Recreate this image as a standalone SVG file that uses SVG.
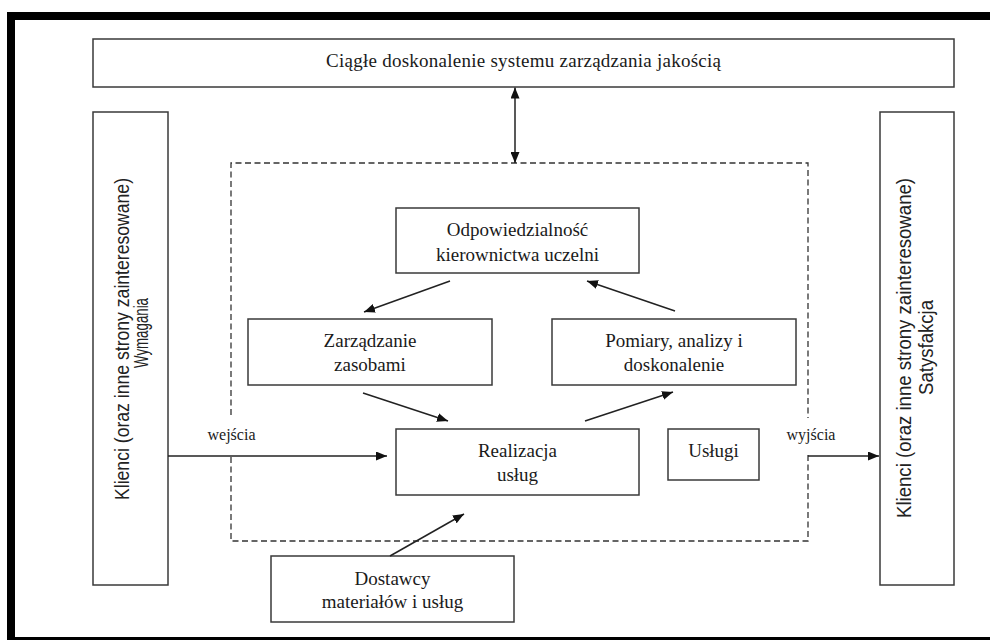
<svg xmlns="http://www.w3.org/2000/svg" width="990" height="640" viewBox="0 0 990 640">
  <defs>
    <marker id="arrow" viewBox="0 0 11 9" refX="11" refY="4.5" markerWidth="11" markerHeight="9" markerUnits="userSpaceOnUse" orient="auto-start-reverse">
      <path d="M0,0 L11,4.5 L0,9 z" fill="#111"/>
    </marker>
    <style>
      .box { fill: #fff; stroke: #3a3a3a; stroke-width: 1.5; }
      .dash { fill: none; stroke: #333; stroke-width: 1.3; stroke-dasharray: 6 3.5; }
      .conn { fill: none; stroke: #222; stroke-width: 1.5; marker-end: url(#arrow); }
      .lbl { font-family: "Liberation Serif", "Times New Roman", serif; font-size: 19px; fill: #1a1a1a; text-anchor: middle; }
      .small { font-family: "Liberation Serif", "Times New Roman", serif; font-size: 16px; fill: #1a1a1a; text-anchor: middle; }
      .side { font-family: "Liberation Sans", Arial, sans-serif; fill: #222; text-anchor: middle; }
    </style>
  </defs>

  <rect width="990" height="640" fill="#fff"/>
  <!-- heavy outer frame -->
  <rect x="11" y="16" width="984" height="625" fill="none" stroke="#000" stroke-width="8"/>

  <!-- process boundary, opened where the input and output flows cross it -->
  <path class="dash" d="M231,415 V163 H808 V418 M808,455 V541 H231 V456"/>

  <g id="improvement">
    <rect class="box" x="93" y="39" width="861" height="48"/>
    <text class="lbl" x="523.5" y="67" textLength="395" lengthAdjust="spacing">Ciągłe doskonalenie systemu zarządzania jakością</text>
  </g>

  <g id="clients-requirements">
    <rect class="box" x="93" y="112" width="75" height="473"/>
    <text class="side" font-size="19.5" transform="translate(128.5,339) rotate(-90)" textLength="322" lengthAdjust="spacingAndGlyphs">Klienci (oraz inne strony zainteresowane)</text>
    <text class="side" font-size="19.5" transform="translate(148,333) rotate(-90)" textLength="70" lengthAdjust="spacingAndGlyphs">Wymagania</text>
  </g>

  <g id="clients-satisfaction">
    <rect class="box" x="880" y="112" width="74" height="473"/>
    <text class="side" font-size="20" transform="translate(911,348) rotate(-90)" textLength="340" lengthAdjust="spacingAndGlyphs">Klienci (oraz inne strony zainteresowane)</text>
    <text class="side" font-size="20" transform="translate(933,347.5) rotate(-90)" textLength="95" lengthAdjust="spacingAndGlyphs">Satysfakcja</text>
  </g>

  <g id="management">
    <rect class="box" x="396" y="208" width="243" height="65"/>
    <text class="lbl" x="517.5" y="235.5">Odpowiedzialność</text>
    <text class="lbl" x="517.5" y="260.5">kierownictwa uczelni</text>
  </g>

  <g id="resources">
    <rect class="box" x="248" y="319" width="244" height="66"/>
    <text class="lbl" x="370" y="347">Zarządzanie</text>
    <text class="lbl" x="370" y="371">zasobami</text>
  </g>

  <g id="measurement">
    <rect class="box" x="552" y="319" width="244" height="66"/>
    <text class="lbl" x="674" y="347">Pomiary, analizy i</text>
    <text class="lbl" x="674" y="371">doskonalenie</text>
  </g>

  <g id="realization">
    <rect class="box" x="396" y="429" width="243" height="66"/>
    <text class="lbl" x="517.5" y="457">Realizacja</text>
    <text class="lbl" x="517.5" y="481">usług</text>
  </g>

  <g id="services">
    <rect class="box" x="668" y="429" width="91" height="51"/>
    <text class="lbl" x="713.5" y="456.5">Usługi</text>
  </g>

  <g id="suppliers">
    <rect class="box" x="271" y="556" width="243" height="66"/>
    <text class="lbl" x="392.5" y="584.5">Dostawcy</text>
    <text class="lbl" x="392.5" y="607.5">materiałów i usług</text>
  </g>

  <g id="connectors">
    <line class="conn" x1="515" y1="87.5" x2="515" y2="163" marker-start="url(#arrow)"/>
    <line class="conn" x1="450" y1="281" x2="364" y2="312"/>
    <line class="conn" x1="675" y1="311" x2="587" y2="281"/>
    <line class="conn" x1="363" y1="393" x2="448" y2="421"/>
    <line class="conn" x1="585" y1="421" x2="673" y2="392"/>
    <line class="conn" x1="168" y1="456" x2="387" y2="456"/>
    <line class="conn" x1="808" y1="456" x2="879" y2="456"/>
    <line class="conn" x1="390" y1="556" x2="464" y2="514"/>
    <text class="small" x="231.5" y="440">wejścia</text>
    <text class="small" x="811" y="440">wyjścia</text>
  </g>
</svg>
